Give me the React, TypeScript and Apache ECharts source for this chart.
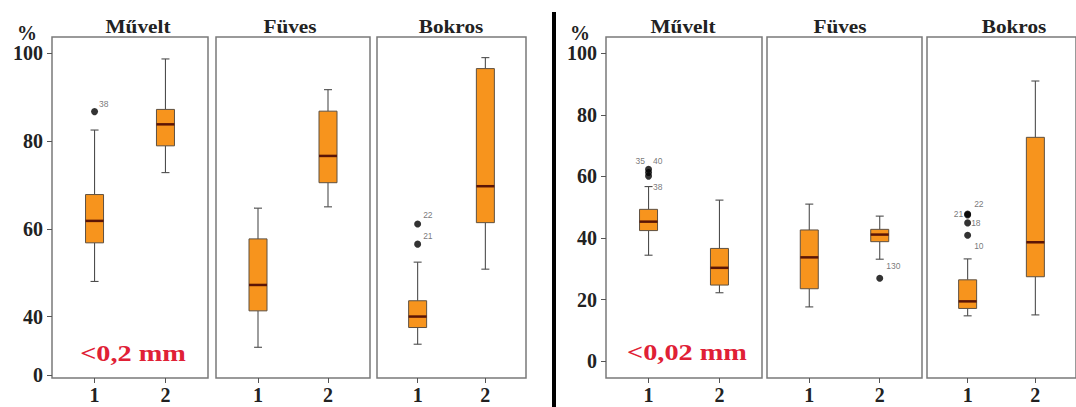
import React, { useEffect, useRef } from 'react';
import * as echarts from 'echarts';

// ---------- data ----------
const groupTitles = ['Művelt', 'Füves', 'Bokros'];
const categoryLabels = ['1', '2'];
const categoryPositions = [1, 2];
const coarseLabel = '<0,2 mm';
const fineLabel = '<0,02 mm';

// box rows: [category position, min, Q1, median, Q3, max]
const coarseMuvelt = [[1, 48.0, 56.8, 61.8, 67.8, 82.5], [2, 72.8, 78.9, 83.8, 87.2, 98.7]];
const coarseFuves = [[1, 33.0, 41.3, 47.2, 57.7, 64.7], [2, 65.0, 70.5, 76.6, 86.8, 91.7]];
const coarseBokros = [[1, 33.7, 37.5, 40.0, 43.6, 52.4], [2, 50.8, 61.4, 69.7, 96.5, 99.0]];

const fineMuvelt = [[1, 34.4, 42.4, 45.3, 49.3, 56.7], [2, 22.2, 24.7, 30.3, 36.6, 52.3]];
const fineFuves = [[1, 17.6, 23.5, 33.7, 42.6, 51.0], [2, 33.1, 38.8, 41.1, 42.8, 47.1]];
const fineBokros = [[1, 14.7, 17.1, 19.4, 26.4, 33.2], [2, 15.0, 27.4, 38.6, 72.7, 91.0]];

// outliers: [category position, value, case label]
const coarseMuveltOut = [[1, 86.7, '38']];
const coarseFuvesOut: any[] = [];
const coarseBokrosOut = [[1, 61.1, '22'], [1, 56.5, '21']];

const fineMuveltOut = [[1, 62.3, '35'], [1, 61.3, '40'], [1, 60.1, '38']];
const fineFuvesOut = [[2, 26.9, '130']];
const fineBokrosOut = [[1, 47.8, '22'], [1, 47.5, '21'], [1, 44.9, '18'], [1, 40.9, '10']];

const coarseTicks = [40, 60, 80, 100];
const coarseBreakTick = 26.7; // shown as "0"
const fineTicks = [0, 20, 40, 60, 80, 100];

// ---------- styling / layout ----------
const SERIF = '"Liberation Serif", "DejaVu Serif", serif';
const SANS = '"Liberation Sans", Arial, sans-serif';
const ORANGE = '#F7941D';
const CASE_COLOR = '#555555';

const panels = [
  { left: 52, width: 156, yMin: 26.0, yMax: 103.7, boxes: coarseMuvelt, out: coarseMuveltOut, first: true, coarse: true },
  { left: 216, width: 154, yMin: 26.0, yMax: 103.7, boxes: coarseFuves, out: coarseFuvesOut, first: false, coarse: true },
  { left: 377, width: 149, yMin: 26.0, yMax: 103.7, boxes: coarseBokros, out: coarseBokrosOut, first: false, coarse: true },
  { left: 606, width: 156, yMin: -5.5, yMax: 105.3, boxes: fineMuvelt, out: fineMuveltOut, first: true, coarse: false },
  { left: 767, width: 155, yMin: -5.5, yMax: 105.3, boxes: fineFuves, out: fineFuvesOut, first: false, coarse: false },
  { left: 927, width: 156, yMin: -5.5, yMax: 105.3, boxes: fineBokros, out: fineBokrosOut, first: false, coarse: false },
];

// label placements for outlier case numbers (panel index -> list aligned with outliers)
const outLabelPlacement: Record<number, any[]> = {
  0: [{ position: 'right', offset: [-2, -8] }],
  2: [{ position: 'right', offset: [-1, -9] }, { position: 'right', offset: [-1, -8] }],
  3: [{ position: 'left', offset: [3, -8] }, { position: 'right', offset: [-2, -11] }, { position: 'right', offset: [-2, 11] }],
  4: [{ position: 'right', offset: [0, -12] }],
  5: [{ position: 'right', offset: [0, -10] }, { position: 'left', offset: [2, -1] }, { position: 'right', offset: [-3, 0] }, { position: 'right', offset: [0, 11] }],
};

const titlePos = [
  [138, 26], [290, 26], [451, 26],
  [683, 26], [840, 26], [1014, 26],
];

function renderBox(params: any, api: any) {
  const x = api.value(0);
  const pMin = api.coord([x, api.value(1)]);
  const yQ1 = api.coord([x, api.value(2)])[1];
  const yMed = api.coord([x, api.value(3)])[1];
  const yQ3 = api.coord([x, api.value(4)])[1];
  const yMax = api.coord([x, api.value(5)])[1];
  const cx = pMin[0];
  const yMin = pMin[1];
  const hw = 9;
  const cap = 4;
  const wStyle = { stroke: '#4d4d4d', lineWidth: 1.1 };
  return {
    type: 'group',
    children: [
      { type: 'line', shape: { x1: cx, y1: yMax, x2: cx, y2: yQ3 }, style: wStyle },
      { type: 'line', shape: { x1: cx, y1: yQ1, x2: cx, y2: yMin }, style: wStyle },
      { type: 'line', shape: { x1: cx - cap, y1: yMax, x2: cx + cap, y2: yMax }, style: wStyle },
      { type: 'line', shape: { x1: cx - cap, y1: yMin, x2: cx + cap, y2: yMin }, style: wStyle },
      {
        type: 'rect',
        shape: { x: cx - hw, y: yQ3, width: hw * 2, height: yQ1 - yQ3 },
        style: { fill: ORANGE, stroke: '#5e5040', lineWidth: 1 },
      },
      { type: 'line', shape: { x1: cx - hw, y1: yMed, x2: cx + hw, y2: yMed }, style: { stroke: '#5b1506', lineWidth: 2.5 } },
    ],
  };
}

export default function App() {
  const ref = useRef<HTMLDivElement>(null);

  useEffect(() => {
    if (!ref.current) return;
    const chart = echarts.init(ref.current, undefined, { renderer: 'svg' });

    const grid = panels.map((p) => ({
      left: p.left,
      top: 37,
      width: p.width,
      height: 341,
      show: true,
      backgroundColor: '#fff',
      borderColor: '#7a7a7a',
      borderWidth: 1.5,
      containLabel: false,
    }));

    const xAxis = panels.map((p, i) => ({
      type: 'value',
      gridIndex: i,
      position: 'bottom',
      min: 0.4,
      max: 2.6,
      axisLine: { show: false, onZero: false },
      splitLine: { show: false },
      axisTick: {
        show: true,
        customValues: categoryPositions,
        length: 5,
        lineStyle: { color: '#555', width: 1 },
      },
      axisLabel: {
        customValues: categoryPositions,
        formatter: (v: number) => categoryLabels[Math.round(v) - 1] ?? '',
        margin: 7,
        fontFamily: SERIF,
        fontWeight: 'bold',
        fontSize: 20,
        color: '#222',
      },
    }));

    const yAxis = panels.map((p, i) => {
      const ticks = p.coarse ? [coarseBreakTick, ...coarseTicks] : fineTicks;
      return {
        type: 'value',
        gridIndex: i,
        position: 'left',
        min: p.yMin,
        max: p.yMax,
        axisLine: { show: false, onZero: false },
        splitLine: { show: false },
        axisTick: {
          show: p.first,
          customValues: ticks,
          length: 5,
          lineStyle: { color: '#555', width: 1 },
        },
        axisLabel: {
          show: p.first,
          customValues: ticks,
          formatter: (v: number) => (p.coarse && Math.abs(v - coarseBreakTick) < 0.01 ? '0' : String(Math.round(v))),
          margin: 9,
          fontFamily: SERIF,
          fontWeight: 'bold',
          fontSize: 20,
          color: '#222',
        },
      };
    });

    const series: any[] = [];
    panels.forEach((p, i) => {
      series.push({
        type: 'custom',
        xAxisIndex: i,
        yAxisIndex: i,
        data: p.boxes,
        encode: { x: 0, y: [1, 2, 3, 4, 5] },
        renderItem: renderBox,
        z: 3,
      });
      if (p.out.length) {
        const placements = outLabelPlacement[i] || [];
        series.push({
          type: 'scatter',
          xAxisIndex: i,
          yAxisIndex: i,
          symbol: 'circle',
          symbolSize: 7,
          itemStyle: { color: '#000' },
          z: 4,
          label: {
            show: true,
            formatter: (d: any) => d.name,
            fontSize: 8.5,
            fontFamily: SANS,
            color: CASE_COLOR,
            distance: 3,
          },
          data: p.out.map((o: any, k: number) => ({
            value: [o[0], o[1]],
            name: o[2],
            label: {
              show: true,
              color: CASE_COLOR,
              fontSize: 8.5,
              fontFamily: SANS,
              ...(placements[k] || { position: 'right' }),
            },
          })),
        });
      }
    });

    const graphic: any[] = [
      { type: 'rect', shape: { x: 552, y: 12, width: 4, height: 395 }, style: { fill: '#000' } },
      { type: 'text', x: 27, y: 33, style: { text: '%', font: `bold 20px ${SERIF}`, fill: '#222', textAlign: 'center', textVerticalAlign: 'middle' } },
      { type: 'text', x: 580, y: 33, style: { text: '%', font: `bold 20px ${SERIF}`, fill: '#222', textAlign: 'center', textVerticalAlign: 'middle' } },
      { type: 'text', x: 133, y: 353, scaleX: 1.18, style: { text: coarseLabel, font: `bold 24px ${SERIF}`, fill: '#E02035', textAlign: 'center', textVerticalAlign: 'middle' } },
      { type: 'text', x: 687, y: 352, scaleX: 1.18, style: { text: fineLabel, font: `bold 24px ${SERIF}`, fill: '#E02035', textAlign: 'center', textVerticalAlign: 'middle' } },
    ];
    titlePos.forEach((tp, i) => {
      graphic.push({
        type: 'text',
        x: tp[0],
        y: tp[1],
        scaleX: 1.12,
        style: {
          text: groupTitles[i % 3],
          font: `bold 19px ${SERIF}`,
          fill: '#222',
          textAlign: 'center',
          textVerticalAlign: 'middle',
        },
      });
    });

    chart.setOption({
      animation: false,
      backgroundColor: '#fff',
      grid,
      xAxis,
      yAxis,
      series,
      graphic,
    });

    return () => chart.dispose();
  }, []);

  return (
    <div
      ref={ref}
      style={{ position: 'fixed', left: 0, top: 0, width: 1076, height: 407 }}
    />
  );
}
